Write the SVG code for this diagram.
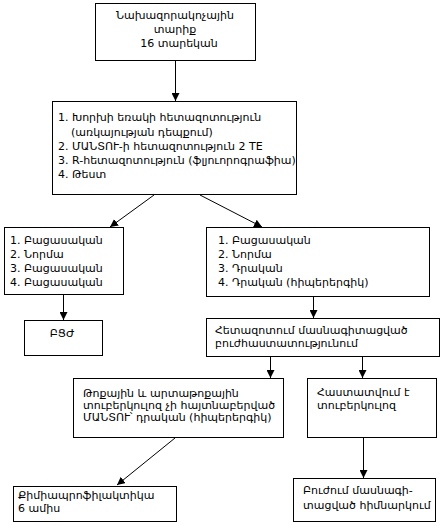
<svg xmlns="http://www.w3.org/2000/svg" width="443" height="526" viewBox="0 0 443 526">
<defs>
<marker id="ah" markerWidth="8" markerHeight="8" refX="8" refY="4" orient="auto" markerUnits="userSpaceOnUse">
<path d="M0,0 L8,4 L0,8 z" fill="#000"/>
</marker>
<style>
.box{fill:#fff;stroke:#000;stroke-width:1}
text{font-family:"DejaVu Sans","Noto Sans",sans-serif;font-size:11px;fill:#000}
.c{text-anchor:middle}
.ln{stroke:#000;stroke-width:1;fill:none;marker-end:url(#ah)}
</style>
</defs>
<rect width="443" height="526" fill="#fff"/>
<g id="connectors">
<line class="ln" x1="175.5" y1="61" x2="175.5" y2="101"/>
<line class="ln" x1="154" y1="195" x2="110" y2="227"/>
<line class="ln" x1="200" y1="195" x2="262" y2="227"/>
<line class="ln" x1="63.5" y1="295" x2="63.5" y2="320"/>
<line class="ln" x1="313.5" y1="297" x2="313.5" y2="318"/>
<line class="ln" x1="270.5" y1="357" x2="270.5" y2="378"/>
<line class="ln" x1="362.5" y1="357" x2="362.5" y2="378"/>
<line class="ln" x1="175" y1="438" x2="117" y2="485"/>
<line class="ln" x1="363.5" y1="438" x2="363.5" y2="478"/>
</g>
<g id="n1">
<rect class="box" x="95.5" y="3.5" width="160" height="57"/>
<text class="c" x="175" y="19">Նախազորակոչային</text>
<text class="c" x="175" y="33">տարիք</text>
<text class="c" x="179" y="47">16 տարեկան</text>
</g>
<g id="n2">
<rect class="box" x="52.5" y="101.5" width="244" height="93"/>
<text x="58" y="121">1. Խորխի եռակի հետազոտություն</text>
<text x="71" y="136">(առկայության դեպքում)</text>
<text x="58" y="150">2. ՄԱՆՏՈՒ-ի հետազոտություն 2 TE</text>
<text x="58" y="164">3. R-հետազոտություն (ֆլյուորոգրաֆիա)</text>
<text x="58" y="178">4. Թեստ</text>
</g>
<g id="n3">
<rect class="box" x="4.5" y="227.5" width="119" height="67"/>
<text x="10" y="244">1. Բացասական</text>
<text x="10" y="258">2. Նորմա</text>
<text x="10" y="272">3. Բացասական</text>
<text x="10" y="286">4. Բացասական</text>
</g>
<g id="n4">
<rect class="box" x="206.5" y="227.5" width="223" height="69"/>
<text x="218" y="244">1. Բացասական</text>
<text x="218" y="258">2. Նորմա</text>
<text x="218" y="272">3. Դրական</text>
<text x="218" y="286">4. Դրական (հիպերերգիկ)</text>
</g>
<g id="n5">
<rect class="box" x="24.5" y="320.5" width="78" height="35"/>
<text class="c" x="62" y="337">ԲՑԺ</text>
</g>
<g id="n6">
<rect class="box" x="206.5" y="318.5" width="233" height="38"/>
<text x="215" y="334">Հետազոտում մասնագիտացված</text>
<text x="215" y="347">բուժհաստատությունում</text>
</g>
<g id="n7">
<rect class="box" x="73.5" y="378.5" width="210" height="59"/>
<text x="83" y="397">Թոքային և արտաթոքային</text>
<text x="83" y="409">տուբերկուլոզ չի հայտնաբերված</text>
<text x="83" y="421">ՄԱՆՏՈՒ՝ դրական (հիպերերգիկ)</text>
</g>
<g id="n8">
<rect class="box" x="307.5" y="378.5" width="129" height="59"/>
<text x="317" y="396">Հաստատվում է</text>
<text x="317" y="409">տուբերկուլոզ</text>
</g>
<g id="n9">
<rect class="box" x="13.5" y="486.5" width="163" height="35"/>
<text x="18" y="499">Քիմիապրոֆիլակտիկա</text>
<text x="18" y="512">6 ամիս</text>
</g>
<g id="n10">
<rect class="box" x="293.5" y="478.5" width="142" height="43"/>
<text x="303" y="494">Բուժում  մասնագի-</text>
<text x="303" y="509">տացված հիմնարկում</text>
</g>
</svg>
